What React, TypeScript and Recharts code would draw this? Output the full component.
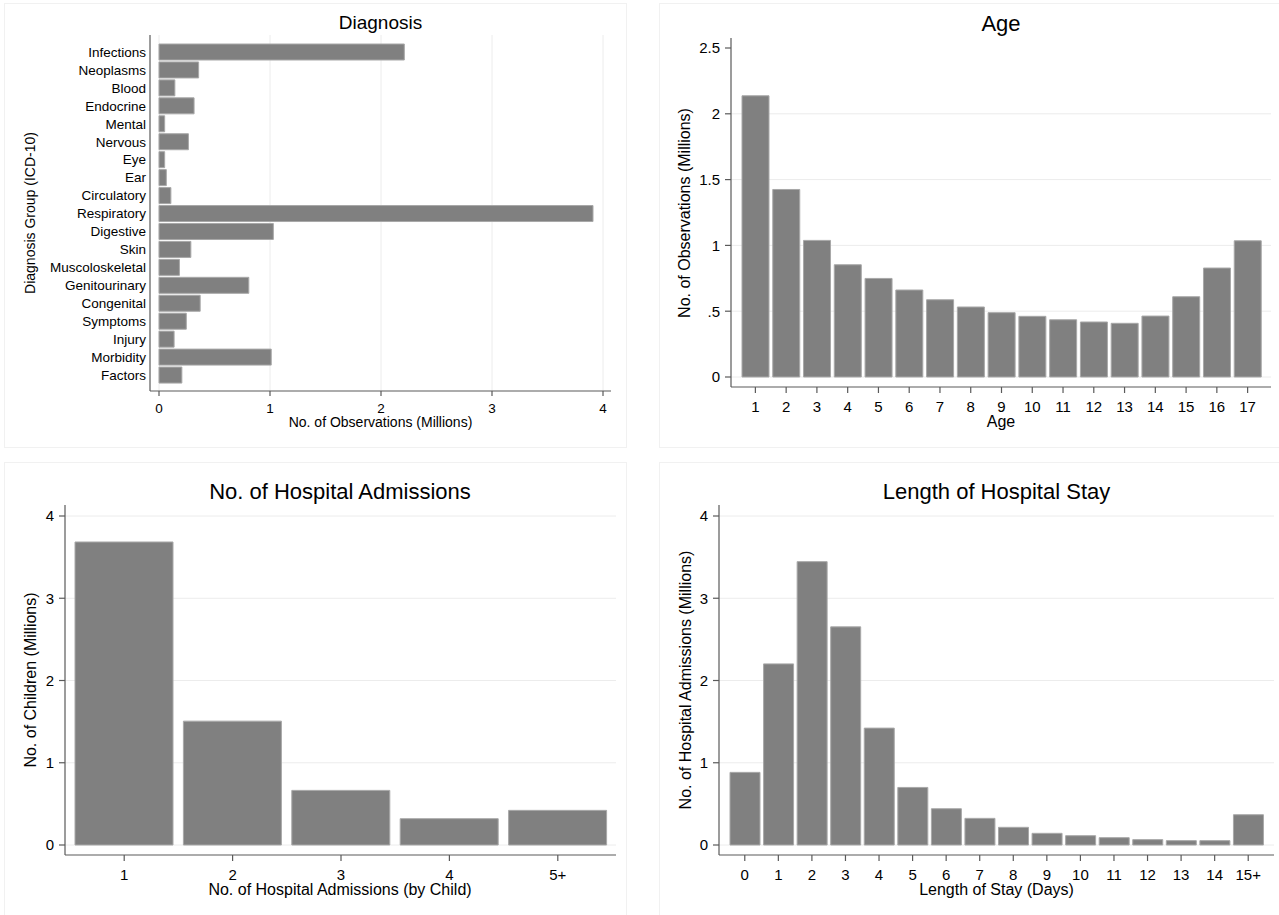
import React from 'react';
import { BarChart, Bar, XAxis, YAxis, CartesianGrid } from 'recharts';

// Diagnosis groups (ICD-10 chapters), millions of observations
const diagnosisGroups = [
  'Infections', 'Neoplasms', 'Blood', 'Endocrine', 'Mental', 'Nervous', 'Eye', 'Ear',
  'Circulatory', 'Respiratory', 'Digestive', 'Skin', 'Muscoloskeletal', 'Genitourinary',
  'Congenital', 'Symptoms', 'Injury', 'Morbidity', 'Factors',
];
const diagnosisCounts = [
  2.21, 0.357, 0.143, 0.316, 0.051, 0.265, 0.051, 0.066,
  0.107, 3.91, 1.03, 0.287, 0.184, 0.809,
  0.371, 0.246, 0.136, 1.011, 0.206,
];

// Age in years, millions of observations
const ages = ['1', '2', '3', '4', '5', '6', '7', '8', '9', '10', '11', '12', '13', '14', '15', '16', '17'];
const ageCounts = [
  2.137, 1.425, 1.038, 0.853, 0.749, 0.661, 0.587, 0.532, 0.489,
  0.461, 0.435, 0.418, 0.408, 0.463, 0.61, 0.828, 1.035,
];

// Hospital admissions per child, millions of children
const admissionBins = ['1', '2', '3', '4', '5+'];
const admissionCounts = [3.684, 1.506, 0.664, 0.32, 0.421];

// Length of stay in days, millions of admissions
const stayBins = ['0', '1', '2', '3', '4', '5', '6', '7', '8', '9', '10', '11', '12', '13', '14', '15+'];
const stayCounts = [
  0.883, 2.202, 3.445, 2.652, 1.421, 0.7, 0.441, 0.324,
  0.215, 0.142, 0.113, 0.089, 0.065, 0.053, 0.053, 0.368,
];

const diagnosisTicks = [0, 1, 2, 3, 4];
const ageTicks = [0, 0.5, 1, 1.5, 2, 2.5];
const ageGrid = [0, 0.5, 1, 1.5, 2];
const millionTicks = [0, 1, 2, 3, 4];

const diagnosisData = diagnosisGroups.map((group, i) => ({ group, value: diagnosisCounts[i] }));
const ageData = ages.map((age, i) => ({ age, value: ageCounts[i] }));
const admissionData = admissionBins.map((bin, i) => ({ bin, value: admissionCounts[i] }));
const stayData = stayBins.map((bin, i) => ({ bin, value: stayCounts[i] }));

const BAR_FILL = '#808080';
const BAR_STROKE = '#a8a8a8';
const AXIS = { stroke: '#5a5a5a', strokeWidth: 1.2 };
const GRID = '#ececec';

const stataNumber = (v: number) => (v > 0 && v < 1 ? String(v).replace(/^0/, '') : String(v));

type CaptionProps = { x: number; y: number; size: number; rotate?: boolean; children: React.ReactNode };

function Caption({ x, y, size, rotate, children }: CaptionProps) {
  return (
    <div
      style={{
        position: 'absolute',
        left: x,
        top: y,
        fontSize: size,
        lineHeight: 1,
        whiteSpace: 'nowrap',
        color: '#000',
        transform: `translate(-50%, -50%)${rotate ? ' rotate(-90deg)' : ''}`,
      }}
    >
      {children}
    </div>
  );
}

function Frame({ left, top, width, height }: { left: number; top: number; width: number; height: number }) {
  return (
    <div
      style={{ position: 'absolute', left, top, width, height, border: '1px solid #f1f1f1', boxSizing: 'border-box' }}
    />
  );
}

export default function App() {
  const smallTick = { fill: '#000', fontSize: 13.5 };
  const tick = { fill: '#000', fontSize: 15 };

  return (
    <div
      style={{
        position: 'absolute',
        left: 0,
        top: 0,
        width: 1279,
        height: 915,
        overflow: 'hidden',
        background: '#fff',
        fontFamily: '"Liberation Sans", Arial, sans-serif',
      }}
    >
      <Frame left={4} top={3} width={623} height={445} />
      <Frame left={659} top={3} width={640} height={445} />
      <Frame left={4} top={462} width={623} height={480} />
      <Frame left={659} top={462} width={640} height={480} />

      {/* Diagnosis */}
      <div style={{ position: 'absolute', left: 0, top: 0 }}>
        <BarChart
          width={640}
          height={440}
          data={diagnosisData}
          layout="vertical"
          margin={{ top: 35, right: 29, bottom: 9, left: 0 }}
        >
          <CartesianGrid horizontal={false} verticalValues={diagnosisTicks} stroke={GRID} />
          <XAxis
            type="number"
            domain={[0, 4]}
            ticks={diagnosisTicks}
            height={40}
            padding={{ left: 9, right: 8 }}
            tickSize={5}
            tickMargin={7}
            axisLine={AXIS}
            tickLine={AXIS}
            tick={smallTick}
          />
          <YAxis
            type="category"
            dataKey="group"
            width={150}
            interval={0}
            padding={{ top: 8, bottom: 7 }}
            tickSize={0}
            tickMargin={4}
            tickLine={false}
            axisLine={AXIS}
            tick={smallTick}
          />
          <Bar dataKey="value" fill={BAR_FILL} stroke={BAR_STROKE} barSize={16} isAnimationActive={false} />
        </BarChart>
      </div>
      <Caption x={380.5} y={22} size={19}>Diagnosis</Caption>
      <Caption x={380.5} y={422} size={14}>No. of Observations (Millions)</Caption>
      <Caption x={30} y={213} size={14} rotate>Diagnosis Group (ICD-10)</Caption>

      {/* Age */}
      <div style={{ position: 'absolute', left: 640, top: 0 }}>
        <BarChart width={639} height={445} data={ageData} margin={{ top: 38, right: 8, bottom: 18, left: 0 }}>
          <CartesianGrid vertical={false} horizontalValues={ageGrid} stroke={GRID} />
          <XAxis
            dataKey="age"
            height={40}
            interval={0}
            padding={{ left: 9, right: 8 }}
            tickSize={6}
            tickMargin={8}
            axisLine={AXIS}
            tickLine={AXIS}
            tick={tick}
          />
          <YAxis
            width={91}
            domain={[0, 2.5]}
            ticks={ageTicks}
            padding={{ top: 10, bottom: 10 }}
            tickFormatter={stataNumber}
            tickSize={6}
            tickMargin={5}
            axisLine={AXIS}
            tickLine={AXIS}
            tick={tick}
          />
          <Bar dataKey="value" fill={BAR_FILL} stroke={BAR_STROKE} barSize={27} isAnimationActive={false} />
        </BarChart>
      </div>
      <Caption x={1001} y={24} size={22}>Age</Caption>
      <Caption x={1001} y={422} size={16}>Age</Caption>
      <Caption x={685} y={212.5} size={16} rotate>No. of Observations (Millions)</Caption>

      {/* No. of hospital admissions */}
      <div style={{ position: 'absolute', left: 0, top: 460 }}>
        <BarChart width={640} height={455} data={admissionData} margin={{ top: 45, right: 24, bottom: 15, left: 0 }}>
          <CartesianGrid vertical={false} horizontalValues={millionTicks} stroke={GRID} />
          <XAxis
            dataKey="bin"
            height={45}
            interval={0}
            padding={{ left: 5, right: 4 }}
            tickSize={6}
            tickMargin={8}
            axisLine={AXIS}
            tickLine={AXIS}
            tick={tick}
          />
          <YAxis
            width={65}
            domain={[0, 4]}
            ticks={millionTicks}
            padding={{ top: 11, bottom: 10 }}
            tickSize={6}
            tickMargin={5}
            axisLine={AXIS}
            tickLine={AXIS}
            tick={tick}
          />
          <Bar dataKey="value" fill={BAR_FILL} stroke={BAR_STROKE} barSize={98} isAnimationActive={false} />
        </BarChart>
      </div>
      <Caption x={340} y={492} size={22}>No. of Hospital Admissions</Caption>
      <Caption x={340} y={890} size={16}>No. of Hospital Admissions (by Child)</Caption>
      <Caption x={31} y={680} size={16} rotate>No. of Children (Millions)</Caption>

      {/* Length of hospital stay */}
      <div style={{ position: 'absolute', left: 640, top: 460 }}>
        <BarChart width={639} height={455} data={stayData} margin={{ top: 45, right: 5, bottom: 15, left: 0 }}>
          <CartesianGrid vertical={false} horizontalValues={millionTicks} stroke={GRID} />
          <XAxis
            dataKey="bin"
            height={45}
            interval={0}
            padding={{ left: 9, right: 9 }}
            tickSize={6}
            tickMargin={8}
            axisLine={AXIS}
            tickLine={AXIS}
            tick={tick}
          />
          <YAxis
            width={79}
            domain={[0, 4]}
            ticks={millionTicks}
            padding={{ top: 11, bottom: 10 }}
            tickSize={6}
            tickMargin={5}
            axisLine={AXIS}
            tickLine={AXIS}
            tick={tick}
          />
          <Bar dataKey="value" fill={BAR_FILL} stroke={BAR_STROKE} barSize={30} isAnimationActive={false} />
        </BarChart>
      </div>
      <Caption x={996.5} y={492} size={22}>Length of Hospital Stay</Caption>
      <Caption x={996.5} y={890} size={16}>Length of Stay (Days)</Caption>
      <Caption x={686} y={680} size={16} rotate>No. of Hospital Admissions (Millions)</Caption>
    </div>
  );
}
